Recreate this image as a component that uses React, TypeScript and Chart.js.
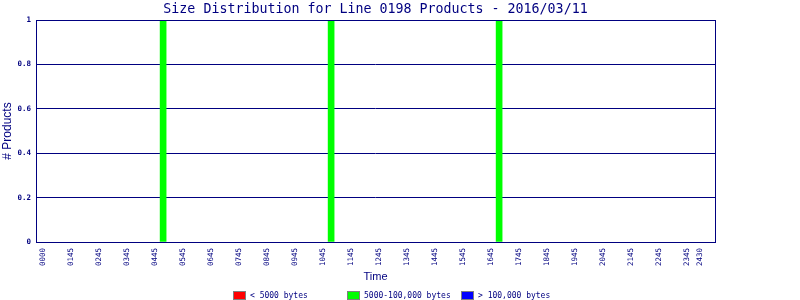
import React, { useEffect, useRef } from "react";
import { Chart, registerables } from "chart.js";

Chart.register(...registerables);

const TITLE = "Size Distribution for Line 0198 Products - 2016/03/11";
const X_TITLE = "Time";
const Y_TITLE = "# Products";

// x tick labels and their slot positions on the time axis
const tickLabels = [
  "0000", "0145", "0245", "0345", "0445", "0545", "0645", "0745", "0845", "0945",
  "1045", "1145", "1245", "1345", "1445", "1545", "1645", "1745", "1845", "1945",
  "2045", "2145", "2245", "2345", "2430",
];
const tickSlots = [
  0, 1, 2, 3, 4, 5, 6, 7, 8, 9, 10, 11, 12, 13, 14, 15, 16, 17, 18, 19, 20, 21, 22, 23, 23.45,
];

// y tick labels
const yTickLabels = ["0", "0.2", "0.4", "0.6", "0.8", "1"];

// series
const seriesLabels = ["< 5000 bytes", "5000-100,000 bytes", "> 100,000 bytes"];
const seriesColors = ["#ff0000", "#00ff00", "#0000ff"];
const smallSlots: number[] = [];
const smallValues: number[] = [];
const mediumSlots = [4.29, 10.29, 16.29];
const mediumValues = [1, 1, 1];
const largeSlots: number[] = [];
const largeValues: number[] = [];

const NAVY = "#000080";

function pts(xs: number[], ys: number[]) {
  return xs.map((x, i) => ({ x, y: ys[i] }));
}

const framePlugin = {
  id: "frameTitleLegend",
  afterDraw(chart: any) {
    const { ctx, chartArea } = chart;
    const { left, right, top, bottom } = chartArea;
    ctx.save();
    // frame
    ctx.strokeStyle = NAVY;
    ctx.lineWidth = 1;
    ctx.strokeRect(Math.round(left) + 0.5, Math.round(top) + 0.5, Math.round(right - left), Math.round(bottom - top));
    // title
    ctx.fillStyle = NAVY;
    ctx.font = "13.3px 'DejaVu Sans Mono'";
    ctx.textAlign = "center";
    ctx.textBaseline = "alphabetic";
    ctx.fillText(TITLE, (left + right) / 2, 13);
    // legend
    const startX = 233;
    const step = 114;
    ctx.font = "8px 'DejaVu Sans Mono'";
    ctx.textAlign = "left";
    chart.data.datasets.forEach((ds: any, i: number) => {
      const bx = startX + step * i;
      ctx.fillStyle = ds.backgroundColor;
      ctx.fillRect(bx, 291, 13, 9);
      ctx.strokeStyle = "#808080";
      ctx.strokeRect(bx + 0.5, 291.5, 12, 8);
      ctx.fillStyle = NAVY;
      ctx.fillText(ds.label, bx + 17, 298);
    });
    ctx.restore();
  },
};

export default function App() {
  const ref = useRef<HTMLCanvasElement | null>(null);
  useEffect(() => {
    if (!ref.current) return;
    const chart = new Chart(ref.current, {
      type: "bar",
      data: {
        datasets: [
          { label: seriesLabels[0], data: pts(smallSlots, smallValues), backgroundColor: seriesColors[0] },
          { label: seriesLabels[1], data: pts(mediumSlots, mediumValues), backgroundColor: seriesColors[1] },
          { label: seriesLabels[2], data: pts(largeSlots, largeValues), backgroundColor: seriesColors[2] },
        ],
      },
      options: {
        animation: false,
        responsive: false,
        layout: { padding: { left: 0, top: 20, right: 85, bottom: 0 } },
        datasets: { bar: { barThickness: 6, grouped: false } },
        plugins: {
          legend: { display: false },
          title: { display: false },
          tooltip: { enabled: false },
        },
        scales: {
          x: {
            type: "linear",
            min: -0.25,
            max: 24,
            offset: false,
            grid: { display: false, drawTicks: false },
            border: { display: false },
            afterBuildTicks: (scale: any) => {
              scale.ticks = tickSlots.map((v) => ({ value: v }));
            },
            afterFit: (scale: any) => {
              scale.height = 58;
            },
            ticks: {
              autoSkip: false,
              minRotation: 90,
              maxRotation: 90,
              padding: 6,
              color: NAVY,
              font: { family: "'DejaVu Sans Mono'", size: 7.5 },
              callback: (v: any) => {
                const i = tickSlots.indexOf(Number(v));
                return i >= 0 ? tickLabels[i] : "";
              },
            },
            title: {
              display: true,
              text: X_TITLE,
              color: NAVY,
              font: { family: "'Liberation Sans'", size: 11 },
              padding: { top: 0, bottom: 16.4 },
            },
          },
          y: {
            min: 0,
            max: 1,
            grid: { color: NAVY, lineWidth: 1, drawTicks: false },
            border: { display: false },
            afterFit: (scale: any) => {
              scale.width = 36;
            },
            ticks: {
              stepSize: 0.2,
              padding: 5,
              color: NAVY,
              font: { family: "'DejaVu Sans Mono'", size: 7.5, weight: "bold" },
              callback: (_v: any, idx: number) => yTickLabels[idx] ?? "",
            },
            title: {
              display: true,
              text: Y_TITLE,
              color: NAVY,
              font: { family: "'Liberation Sans'", size: 12 },
              padding: { top: 0.8, bottom: 0 },
            },
          },
        },
      },
      plugins: [framePlugin],
    } as any);
    return () => chart.destroy();
  }, []);
  return (
    <div style={{ position: "absolute", left: 0, top: 0, width: 800, height: 300, background: "#fff" }}>
      <canvas ref={ref} width={800} height={300} style={{ display: "block" }} />
    </div>
  );
}
